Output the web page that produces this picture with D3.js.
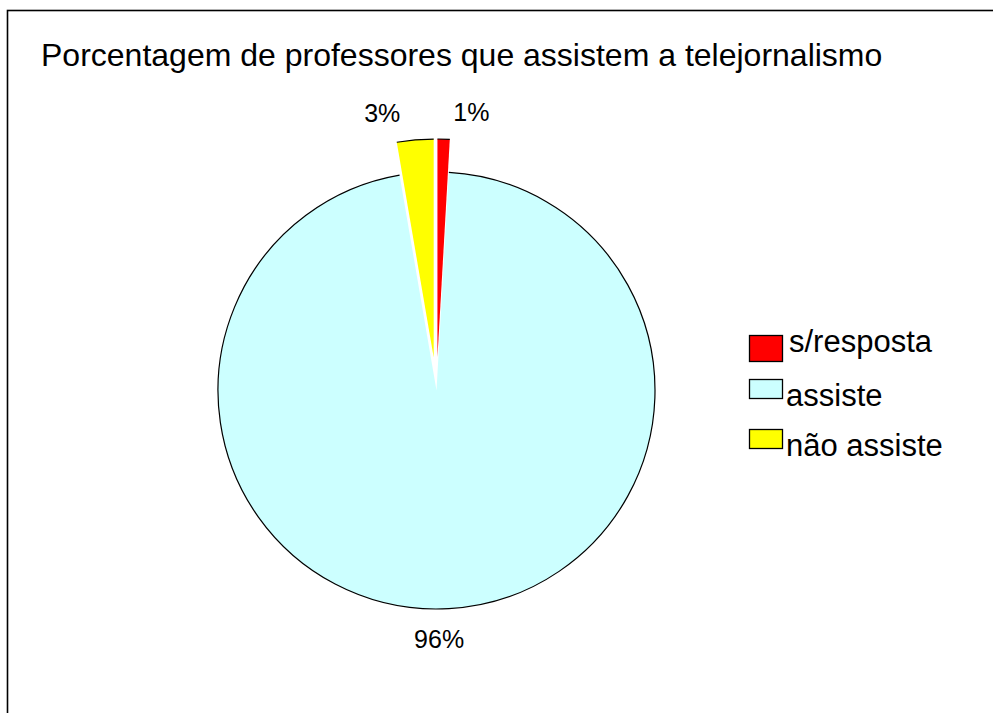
<!DOCTYPE html>
<html>
<head>
<meta charset="utf-8">
<script src="https://cdn.jsdelivr.net/npm/d3@7"></script>
<style>
  body { margin: 0; background: #fff; }
  text { font-family: "Liberation Sans", Arial, sans-serif; fill: #000; }
</style>
</head>
<body>
<div id="chart"></div>
<script>
// chart data (counts: 1% / 96% / 3%)
var categories = ["s/resposta", "assiste", "não assiste"];
var values = [1, 107, 3];
var labels = ["1%", "96%", "3%"];
var colors = ["#FF0000", "#CCFFFF", "#FFFF00"];
var exploded = [true, false, true];

var width = 993, height = 713;
var cx = 436.5, cy = 390.5, radius = 218.5, explode = 33;

var svg = d3.select("#chart")
  .append("svg")
  .attr("width", width)
  .attr("height", height);

// chart frame (runs off the right and bottom edge)
svg.append("rect")
  .attr("x", 7.5)
  .attr("y", 10.5)
  .attr("width", 1000)
  .attr("height", 720)
  .attr("fill", "#fff")
  .attr("stroke", "#000")
  .attr("stroke-width", 1.6);

svg.append("text")
  .attr("x", 41)
  .attr("y", 66)
  .style("font-size", "32px")
  .text("Porcentagem de professores que assistem a telejornalismo");

var pie = d3.pie().sort(null).value(function (d) { return d; });
var arcs = pie(values);

var arc = d3.arc().innerRadius(0).outerRadius(radius);
var rim = d3.arc().innerRadius(radius).outerRadius(radius);
var labelArc = d3.arc().innerRadius(radius + 22).outerRadius(radius + 22);

function mid(d) { return (d.startAngle + d.endAngle) / 2; }

function shift(d, i) {
  if (!exploded[i]) return [0, 0];
  var a = mid(d);
  return [explode * Math.sin(a), -explode * Math.cos(a)];
}

var slices = svg.append("g")
  .attr("transform", "translate(" + cx + "," + cy + ")")
  .selectAll("g")
  .data(arcs)
  .enter()
  .append("g")
  .attr("transform", function (d, i) {
    var s = shift(d, i);
    return "translate(" + s[0] + "," + s[1] + ")";
  });

slices.append("path")
  .attr("d", arc)
  .attr("fill", function (d, i) { return colors[i]; });

slices.append("path")
  .attr("d", rim)
  .attr("fill", "none")
  .attr("stroke", "#000")
  .attr("stroke-width", 1.2);

// data labels
slices.append("text")
  .style("font-size", "25px")
  .attr("text-anchor", function (d) {
    var a = mid(d);
    if (a < 0.3) return "start";
    if (a > 2 * Math.PI - 0.3) return "end";
    return "middle";
  })
  .attr("x", function (d) {
    var p = labelArc.centroid(d);
    var a = mid(d);
    if (a < 0.3) return p[0] + 9;
    if (a > 2 * Math.PI - 0.3) return p[0] - 13;
    return p[0] - 11;
  })
  .attr("y", function (d) {
    var p = labelArc.centroid(d);
    var a = mid(d);
    if (a < 0.3 || a > 2 * Math.PI - 0.3) return p[1] + 4;
    return p[1] + 17;
  })
  .text(function (d, i) { return labels[i]; });

// legend
var legendY = [352, 406, 456];
var legend = svg.append("g")
  .selectAll("g")
  .data(categories)
  .enter()
  .append("g");

legend.append("rect")
  .attr("x", 749.5)
  .attr("y", function (d, i) { return i === 0 ? 335.5 : legendY[i] - 26.5; })
  .attr("width", 33)
  .attr("height", function (d, i) { return i === 0 ? 26 : 19; })
  .attr("fill", function (d, i) { return colors[i]; })
  .attr("stroke", "#000")
  .attr("stroke-width", 1.3);

legend.append("text")
  .attr("x", function (d, i) { return i === 0 ? 789 : 786; })
  .attr("y", function (d, i) { return legendY[i]; })
  .style("font-size", "31px")
  .text(function (d) { return d; });
</script>
</body>
</html>
